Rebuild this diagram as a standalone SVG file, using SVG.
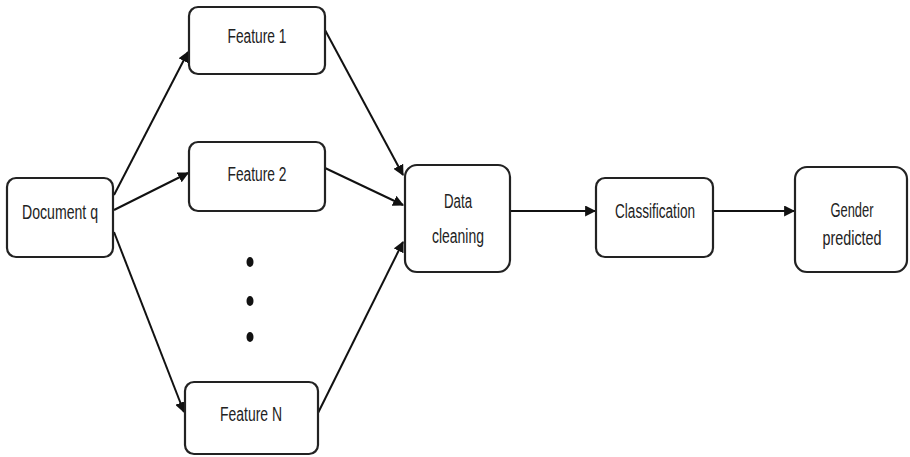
<svg xmlns="http://www.w3.org/2000/svg" width="910" height="457" viewBox="0 0 910 457">
  <defs>
    <marker id="arrow" viewBox="0 0 10 10" refX="9" refY="5" markerWidth="11" markerHeight="11" markerUnits="userSpaceOnUse" orient="auto">
      <path d="M0,0 L10,5 L0,10 z" fill="#111"/>
    </marker>
    <style>
      .box { fill: #fff; stroke: #222; stroke-width: 2.2; }
      .lbl { font-family: "Liberation Sans", Arial, sans-serif; font-size: 20px; fill: #222; text-anchor: middle; }
      .edge { stroke: #111; stroke-width: 2; fill: none; marker-end: url(#arrow); }
      .dot { fill: #111; }
    </style>
  </defs>

  <g id="connectors">
    <line class="edge" x1="114" y1="195" x2="188" y2="52"/>
    <line class="edge" x1="114" y1="210" x2="188" y2="173"/>
    <line class="edge" x1="114" y1="232" x2="184" y2="412"/>
    <line class="edge" x1="325" y1="30" x2="403" y2="175"/>
    <line class="edge" x1="325" y1="168" x2="403" y2="205"/>
    <line class="edge" x1="318" y1="413" x2="403" y2="242"/>
    <line class="edge" x1="510" y1="211" x2="595" y2="211"/>
    <line class="edge" x1="713" y1="211" x2="794" y2="211"/>
  </g>

  <g id="document-q">
    <rect class="box" x="7" y="178" width="106" height="79" rx="9"/>
    <text class="lbl" x="60" y="219" textLength="76" lengthAdjust="spacingAndGlyphs">Document q</text>
  </g>

  <g id="feature-1">
    <rect class="box" x="189" y="7" width="136" height="67" rx="9"/>
    <text class="lbl" x="257" y="43" textLength="59" lengthAdjust="spacingAndGlyphs">Feature 1</text>
  </g>

  <g id="feature-2">
    <rect class="box" x="189" y="142" width="136" height="69" rx="9"/>
    <text class="lbl" x="257" y="181" textLength="59" lengthAdjust="spacingAndGlyphs">Feature 2</text>
  </g>

  <g id="ellipsis">
    <ellipse class="dot" cx="250" cy="262" rx="3.5" ry="5"/>
    <ellipse class="dot" cx="250" cy="301" rx="3.5" ry="5"/>
    <ellipse class="dot" cx="250" cy="337" rx="3.5" ry="5"/>
  </g>

  <g id="feature-n">
    <rect class="box" x="185" y="382" width="133" height="72" rx="9"/>
    <text class="lbl" x="251" y="421" textLength="62" lengthAdjust="spacingAndGlyphs">Feature N</text>
  </g>

  <g id="data-cleaning">
    <rect class="box" x="405" y="165" width="105" height="107" rx="12"/>
    <text class="lbl" x="458" y="208" textLength="28" lengthAdjust="spacingAndGlyphs">Data</text>
    <text class="lbl" x="458" y="243" textLength="52" lengthAdjust="spacingAndGlyphs">cleaning</text>
  </g>

  <g id="classification">
    <rect class="box" x="596" y="178" width="117" height="79" rx="9"/>
    <text class="lbl" x="655" y="218" textLength="80" lengthAdjust="spacingAndGlyphs">Classification</text>
  </g>

  <g id="gender-predicted">
    <rect class="box" x="795" y="167" width="112" height="105" rx="12"/>
    <text class="lbl" x="852" y="217" textLength="43" lengthAdjust="spacingAndGlyphs">Gender</text>
    <text class="lbl" x="852" y="245" textLength="59" lengthAdjust="spacingAndGlyphs">predicted</text>
  </g>
</svg>
